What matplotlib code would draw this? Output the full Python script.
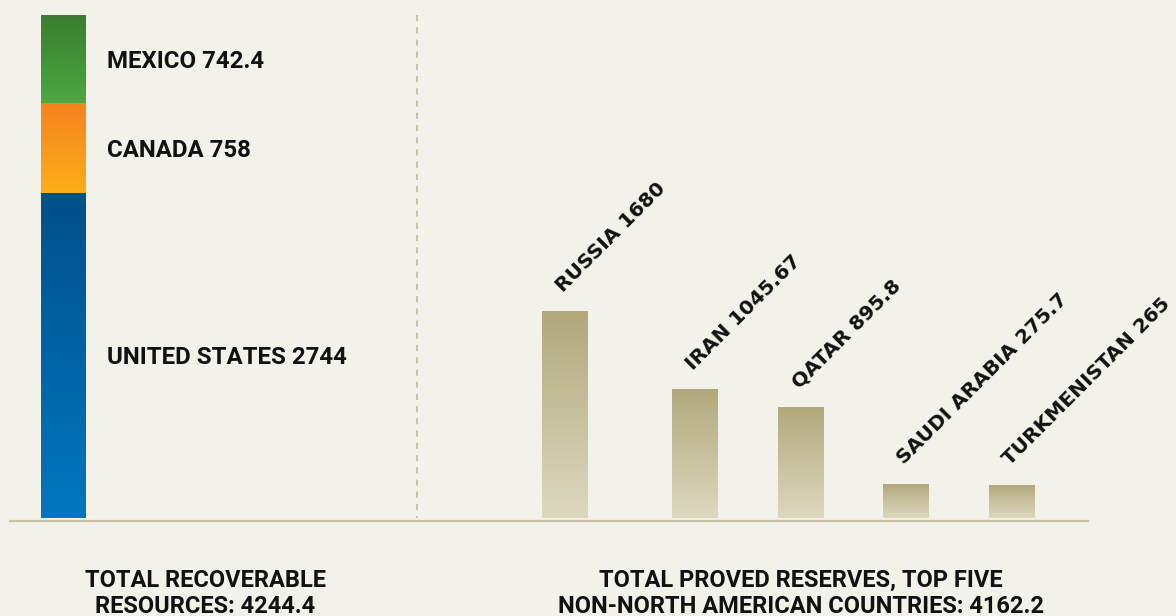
import numpy as np
import matplotlib.pyplot as plt
from matplotlib.colors import LinearSegmentedColormap
from matplotlib.lines import Line2D

# recursos recuperaveis - america do norte (de baixo para cima)
na_countries = ['UNITED STATES', 'CANADA', 'MEXICO']
na_values = [2744, 758, 742.4]
na_labels = ['2744', '758', '742.4']
na_total = '4244.4'

# reservas provadas - top cinco fora da america do norte
res_countries = ['RUSSIA', 'IRAN', 'QATAR', 'SAUDI ARABIA', 'TURKMENISTAN']
res_values = [1680, 1045.67, 895.8, 275.7, 265]
res_labels = ['1680', '1045.67', '895.8', '275.7', '265']
res_total = '4162.2'

titulo_esq = ['TOTAL RECOVERABLE', 'RESOURCES: ' + na_total]
titulo_dir = ['TOTAL PROVED RESERVES, TOP FIVE',
              'NON-NORTH AMERICAN COUNTRIES: ' + res_total]

# cores (topo, base) de cada segmento
na_cores = [('#00508a', '#0077c0'), ('#f58220', '#fcaf17'), ('#3a7d2f', '#4ca843')]
res_cor = ('#b1a87b', '#ddd9c0')
FUNDO = '#f2f1ea'
LINHA = '#c9c2a3'

# layout em pixels
W, H = 1176, 616
res_x = [0, 1.23, 2.23, 3.22, 4.22]
cond = ['Roboto', 'DejaVu Sans']


def fx(px):
    return px / W


def fy(py):
    return 1 - py / H


def barra_grad(ax, barra, c_topo, c_base):
    x0, y0 = barra.get_x(), barra.get_y()
    w, h = barra.get_width(), barra.get_height()
    cmap = LinearSegmentedColormap.from_list('g', [c_base, c_topo])
    grad = np.linspace(0, 1, 256).reshape(-1, 1)
    ax.imshow(grad, cmap=cmap, origin='lower', aspect='auto',
              extent=[x0, x0 + w, y0, y0 + h], zorder=2)


fig = plt.figure(figsize=(W / 100, H / 100), dpi=100, facecolor=FUNDO)
ax1 = fig.add_axes([fx(10), fy(518), fx(417) - fx(10), fy(15) - fy(518)])
ax2 = fig.add_axes([fx(417), fy(518), fx(1088) - fx(417), fy(15) - fy(518)])

# barra empilhada
base = 0
for nome, v, lab, (ct, cb) in zip(na_countries, na_values, na_labels, na_cores):
    b = ax1.bar(0, v, width=1, bottom=base, color='none', linewidth=0)[0]
    barra_grad(ax1, b, ct, cb)
    ax1.text(1.0, base + v / 2, nome + ' ' + lab, ha='left', va='center_baseline',
             fontsize=17.3, fontweight='bold', family=cond, color='#111111')
    base += v
ax1.set_xlim(-1.2045, 8.045)
ax1.set_ylim(0, sum(na_values))

# barras das reservas
for x, nome, v, lab in zip(res_x, res_countries, res_values, res_labels):
    b = ax2.bar(x, v, width=0.425, color='none', linewidth=0)[0]
    barra_grad(ax2, b, *res_cor)
    ax2.annotate(nome + ' ' + lab, xy=(x, v), xytext=(-2, 19),
                 textcoords='offset pixels', rotation=45, rotation_mode='anchor',
                 ha='left', va='baseline', fontsize=14.5, fontweight='bold',
                 color='#111111', annotation_clip=False)
ax2.set_xlim(-1.392, 4.94)
ax2.set_ylim(0, 4096)

for ax in (ax1, ax2):
    ax.axis('off')

# linha de base e divisoria tracejada
fig.add_artist(Line2D([fx(10), fx(1088)], [fy(520.5)] * 2, color=LINHA, lw=1.6))
fig.add_artist(Line2D([fx(417)] * 2, [fy(15), fy(518)], color='#bdb591', lw=1.1,
                      linestyle=(0, (4, 4))))

# titulos de baixo
for i, (a, b) in enumerate(zip(titulo_esq, titulo_dir)):
    yb = fy(587 + 26 * i)
    fig.text(fx(205.5), yb, a, ha='center', va='baseline', fontsize=17,
             fontweight='bold', family=cond, color='#111111')
    fig.text(fx(800.5), yb, b, ha='center', va='baseline', fontsize=17,
             fontweight='bold', family=cond, color='#111111')

fig.savefig('out.png', dpi=100, facecolor=FUNDO)
